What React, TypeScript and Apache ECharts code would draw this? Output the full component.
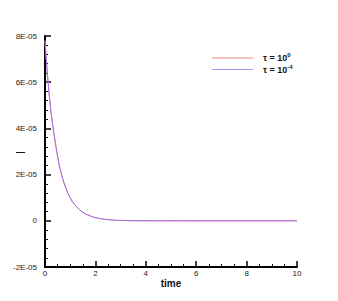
import React, { useEffect, useRef } from "react";
import * as echarts from "echarts";

const timeValues = [0, 0.1, 0.2, 0.3, 0.4, 0.5, 0.6, 0.8, 1.0, 1.2, 1.5, 1.8, 2.0, 2.5, 3.0, 4.0, 5.0, 6.0, 7.0, 8.0, 9.0, 10.0];
const seriesTau0 = [7.8e-5, 6.3e-5, 5.1e-5, 4.2e-5, 3.45e-5, 2.8e-5, 2.25e-5, 1.5e-5, 1.0e-5, 0.68e-5, 0.37e-5, 0.21e-5, 0.14e-5, 0.05e-5, 0.017e-5, 0.003e-5, 0.001e-5, 0, 0, 0, 0, 0];
const seriesTau4 = [7.8e-5, 6.3e-5, 5.1e-5, 4.2e-5, 3.45e-5, 2.8e-5, 2.25e-5, 1.5e-5, 1.0e-5, 0.68e-5, 0.37e-5, 0.21e-5, 0.14e-5, 0.05e-5, 0.017e-5, 0.003e-5, 0.001e-5, 0, 0, 0, 0, 0];
const seriesNames = ["τ = 10^0", "τ = 10^-4"];
const xTickLabels = ["0", "2", "4", "6", "8", "10"];
const yTickLabels = ["-2E-05", "0", "2E-05", "4E-05", "6E-05", "8E-05"];

const FONT = "'Liberation Sans', Arial, Helvetica, sans-serif";

export default function App() {
  const ref = useRef<HTMLDivElement>(null);
  useEffect(() => {
    if (!ref.current) return;
    const chart = echarts.init(ref.current, undefined, { renderer: "svg" });
    const yLabelFor = (v: number) => {
      const idx = Math.round((v + 2e-5) / 2e-5);
      return yTickLabels[idx] ?? "";
    };
    const xLabelFor = (v: number) => {
      const idx = Math.round(v / 2);
      return xTickLabels[idx] ?? "";
    };
    const legendFormatter = (name: string) => {
      const [base, exp] = name.split("^");
      return `{a|${base}}{b|${exp}}`;
    };
    chart.setOption({
      animation: false,
      backgroundColor: "#ffffff",
      grid: { left: 45, right: 41, top: 36, bottom: 34, containLabel: false, outerBoundsMode: "none" },
      legend: {
        orient: "vertical",
        left: 207,
        top: 47,
        itemWidth: 41,
        itemHeight: 10,
        itemGap: 1,
        icon: "path://M0,4.5L41,4.5L41,5.5L0,5.5Z",
        formatter: legendFormatter,
        textStyle: {
          fontFamily: FONT,
          color: "#111",
          padding: [0, 0, 0, 5],
          rich: {
            a: { fontFamily: FONT, fontSize: 9, color: "#111", fontWeight: "bold" },
            b: { fontFamily: FONT, fontSize: 6, color: "#111", fontWeight: "bold", padding: [0, 0, 6, 0] },
          },
        },
        data: seriesNames,
      },
      xAxis: {
        type: "value",
        min: 0,
        max: 10,
        interval: 2,
        name: "time",
        nameLocation: "middle",
        nameGap: 11,
        nameMoveOverlap: false,
        nameTextStyle: { fontFamily: FONT, fontSize: 10, fontWeight: "bold", color: "#111" },
        axisLine: { show: true, onZero: false, lineStyle: { color: "#000", width: 2 } },
        axisTick: { show: true, inside: true, length: 6, lineStyle: { color: "#000", width: 1.5 } },
        minorTick: { show: true, splitNumber: 4, length: 3, lineStyle: { color: "#000", width: 1 } },
        axisLabel: { fontFamily: FONT, fontSize: 8, color: "#222", margin: 2, formatter: xLabelFor },
        splitLine: { show: false },
      },
      yAxis: {
        type: "value",
        min: -2e-5,
        max: 8e-5,
        interval: 2e-5,
        name: "—",
        nameLocation: "middle",
        nameRotate: 0,
        nameGap: 20,
        nameMoveOverlap: false,
        nameTextStyle: { fontFamily: FONT, fontSize: 9, fontWeight: "bold", color: "#111" },
        axisLine: { show: true, onZero: false, lineStyle: { color: "#000", width: 2 } },
        axisTick: { show: true, inside: true, length: 6, lineStyle: { color: "#000", width: 1.5 } },
        minorTick: { show: true, splitNumber: 5, length: 3, lineStyle: { color: "#000", width: 1 } },
        axisLabel: { fontFamily: FONT, fontSize: 8, color: "#222", margin: 8, formatter: yLabelFor },
        splitLine: { show: false },
      },
      series: [
        {
          name: seriesNames[0],
          type: "line",
          data: timeValues.map((t, i) => [t, seriesTau0[i]]),
          symbol: "none",
          smooth: true,
          lineStyle: { color: "#f08a8a", width: 1 },
          itemStyle: { color: "#f08a8a" },
        },
        {
          name: seriesNames[1],
          type: "line",
          data: timeValues.map((t, i) => [t, seriesTau4[i]]),
          symbol: "none",
          smooth: true,
          lineStyle: { color: "#9b6cf0", width: 1 },
          itemStyle: { color: "#9a9af8" },
        },
      ],
    });
    return () => chart.dispose();
  }, []);
  return (
    <div
      ref={ref}
      style={{ position: "fixed", left: 0, top: 0, width: 338, height: 301, background: "#fff" }}
    />
  );
}
